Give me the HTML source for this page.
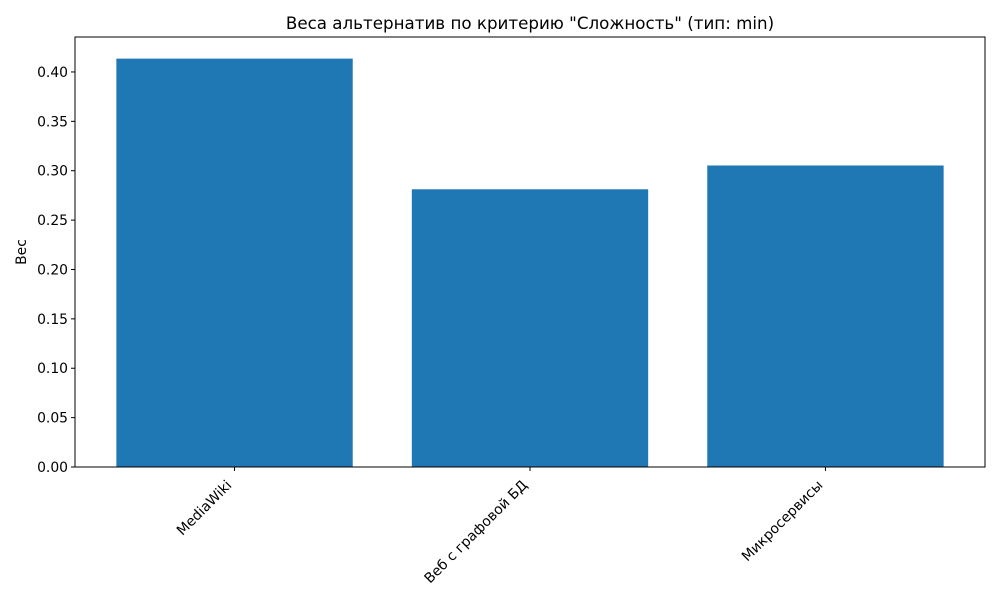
<!DOCTYPE html>
<html><head><meta charset="utf-8"><style>
body{margin:0;background:#fff}
svg text{font-family:"DejaVu Sans","Liberation Sans",sans-serif;fill:#000}
</style></head><body>
<svg id="chart" width="1000" height="600" xmlns="http://www.w3.org/2000/svg">
<rect width="1000" height="600" fill="#fff"/>
<text x="530" y="29" text-anchor="middle" font-size="16.7">Веса альтернатив по критерию "Сложность" (тип: min)</text>
<text transform="translate(26,252) rotate(-90)" text-anchor="middle" font-size="13.9">Вес</text>
<g id="bars"></g><g id="yticks"></g><g id="xticks"></g>
<rect x="75" y="37" width="910" height="430" fill="none" stroke="#000" stroke-width="1"/>
</svg>
<script>
const categories = ["MediaWiki", "Веб с графовой БД", "Микросервисы"];
const weights = [0.4135, 0.2812, 0.3053];
const yTickLabels = ["0.00","0.05","0.10","0.15","0.20","0.25","0.30","0.35","0.40"];
const NS="http://www.w3.org/2000/svg";
const L=75,R=985,T=37,B=467,yMax=0.4354;
const y=v=>B-(v/yMax)*(B-T);
const unit=(R-L)/(categories.length-1+0.8+0.28);
const x=i=>L+(i+0.54)*unit;
function mk(tag,attrs,parent){const e=document.createElementNS(NS,tag);for(const k in attrs)e.setAttribute(k,attrs[k]);document.getElementById(parent).appendChild(e);return e;}
weights.forEach((v,i)=>{
  const r=mk("rect",{x:x(i)-0.4*unit,y:y(v),width:0.8*unit,height:B-y(v),fill:"#1f77b4"},"bars");
  
  
});
yTickLabels.forEach(s=>{
  const v=parseFloat(s),yy=y(v);
  const l=mk("line",{x1:L-4,x2:L,y1:yy,y2:yy,stroke:"#000"},"yticks");
  
  
  const t=mk("text",{x:L-7,y:yy+5,"text-anchor":"end","font-size":"13.9"},"yticks");
  t.textContent=s;
  
  
});
categories.forEach((c,i)=>{
  const xx=x(i);
  const l=mk("line",{x1:xx,x2:xx,y1:B,y2:B+4,stroke:"#000"},"xticks");
  
  
  const t=mk("text",{transform:`translate(${xx-2},${B+19}) rotate(-45)`,"text-anchor":"end","font-size":"13.9"},"xticks");
  t.textContent=c;
  
  
});
</script>
</body></html>
